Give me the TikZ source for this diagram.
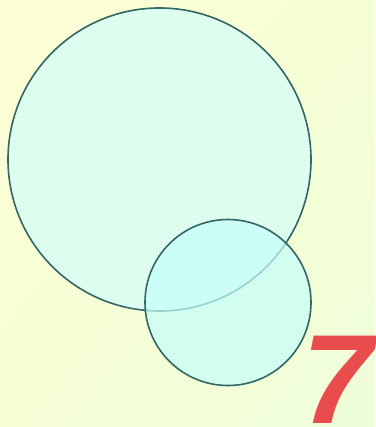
\documentclass[tikz,border=0pt]{standalone}
\usepackage{fontspec}
\setmainfont{Liberation Sans}
\usetikzlibrary{shadings}
\definecolor{bgtop}{HTML}{FDFED3}
\definecolor{bgbot}{HTML}{EEFEDA}
\definecolor{bgmid}{HTML}{F6FED6}
\definecolor{ringline}{HTML}{336666}
\definecolor{bigfill}{HTML}{DDFDEE}
\definecolor{smallfill}{HTML}{C4FFFA}
\definecolor{digitred}{HTML}{E84C4C}
\begin{document}
\begin{tikzpicture}[x=1pt,y=-1pt]
  \shade[upper left=bgtop,upper right=bgmid,lower left=bgmid,lower right=bgbot] (0,0) rectangle (375,427);
  \useasboundingbox (0,0) rectangle (375,427);
  \node[circle,draw=ringline,line width=1.6pt,fill=bigfill,minimum size=303pt,inner sep=0pt] (big) at (159.5,159.5) {};
  \node[circle,draw=ringline,line width=1.6pt,fill=smallfill,fill opacity=0.7,minimum size=166pt,inner sep=0pt] (small) at (228,302.5) {};
  \node[anchor=base west,inner sep=0pt,text=digitred,font=\fontsize{127}{127}\selectfont\bfseries\itshape] (seven) at (302,423) {7};
\end{tikzpicture}
\end{document}
